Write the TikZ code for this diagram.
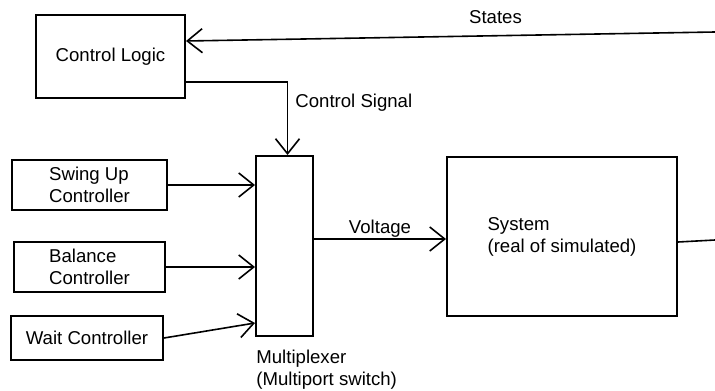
\documentclass[tikz,border=0pt]{standalone}
\usepackage{fontspec}
\setmainfont{Liberation Sans}
\usetikzlibrary{arrows.meta}
\tikzset{
  blk/.style={draw,line width=1pt,inner sep=0pt,align=left,font=\fontsize{9.3pt}{11pt}\selectfont},
  lbl/.style={inner sep=0pt,align=left,font=\fontsize{9.3pt}{11pt}\selectfont},
  sig/.style={line width=0.8pt,-{Straight Barb[length=7.5pt,width=12pt,line width=0.8pt]}}
}
\begin{document}
\begin{tikzpicture}[x=0.5pt,y=-0.5pt]
\useasboundingbox (0,0) rectangle (715,390);
\node[blk,minimum width=74.5pt,minimum height=41.5pt] (logic) at (110.5,56.5) {Control Logic};
\node[blk,minimum width=77.5pt,minimum height=25pt] (swing) at (89.5,185) {Swing Up\\Controller};
\node[blk,minimum width=75.5pt,minimum height=25pt] (balance) at (89.5,267) {Balance\\Controller};
\node[blk,minimum width=76pt,minimum height=22pt] (wait) at (87,338) {Wait Controller};
\node[blk,minimum width=28.5pt,minimum height=90pt] (mux) at (284.5,246) {};
\node[blk,minimum width=115pt,minimum height=79.5pt] (sys) at (562,236.5) {System\\(real of simulated)};
\node[lbl,anchor=north west] (muxlbl) at (256,350) {Multiplexer\\(Multiport switch)};
\coordinate (statesin) at (715,32);
\coordinate (sysout) at (715,240);
% feedback and control
\draw[sig] (statesin) -- ([yshift=7.75pt]logic.east)
  node[lbl,pos=0.415,above=5.5pt] (stateslbl) {States};
\draw[sig] ([yshift=-12.75pt]logic.east) -| ([xshift=1.5pt]mux.north);
\node[lbl,anchor=west] (ctrllbl) at (295,103) {Control Signal};
% controllers into the switch
\foreach \c in {swing,balance}
{
  \draw[sig] (\c.east) -- (\c.east -| mux.west);
}
\draw[sig] (wait.east) -- ([yshift=7pt]mux.south west);
% switch to system
\draw[sig] ([yshift=-1.25pt]mux.east |- sys.west) -- ([yshift=-1.25pt]sys.west)
  node[lbl,midway,above=0.5pt] (voltlbl) {Voltage};
\draw[line width=0.8pt] ([yshift=-2.75pt]sys.east) -- (sysout);
\end{tikzpicture}
\end{document}
